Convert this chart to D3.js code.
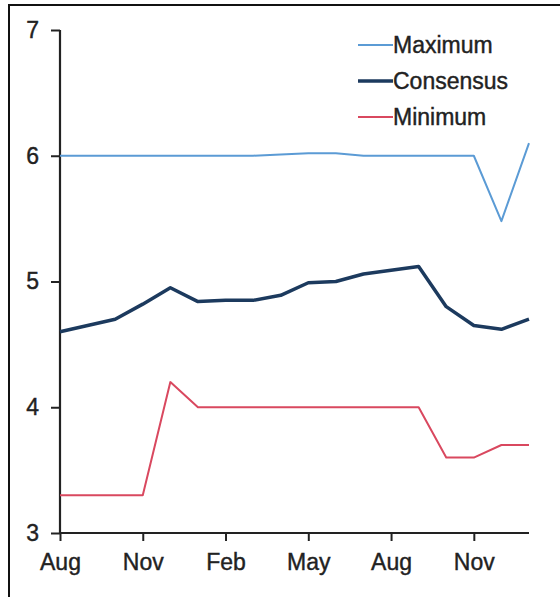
<!DOCTYPE html>
<html>
<head>
<meta charset="utf-8">
<script src="https://cdn.jsdelivr.net/npm/d3@7"></script>
<style>
  body { margin: 0; background: #fff; }
  svg text { font-family: "Liberation Sans", Arial, sans-serif; fill: #222; }
</style>
</head>
<body>
<div id="chart"></div>
<script>
// Monthly points, Aug .. Jan of the year after next
const months = ['Aug', 'Sep', 'Oct', 'Nov', 'Dec', 'Jan', 'Feb', 'Mar', 'Apr',
  'May', 'Jun', 'Jul', 'Aug', 'Sep', 'Oct', 'Nov', 'Dec', 'Jan'];
const tickIdx = [0, 3, 6, 9, 12, 15];
const yTicks = [3, 4, 5, 6, 7];

const maximum = [6.0, 6.0, 6.0, 6.0, 6.0, 6.0, 6.0, 6.0, 6.01, 6.02, 6.02, 6.0,
  6.0, 6.0, 6.0, 6.0, 5.48, 6.1];
const consensus = [4.6, 4.65, 4.7, 4.82, 4.95, 4.84, 4.85, 4.85, 4.89, 4.99, 5.0,
  5.06, 5.09, 5.12, 4.8, 4.65, 4.62, 4.7];
const minimum = [3.3, 3.3, 3.3, 3.3, 4.2, 4.0, 4.0, 4.0, 4.0, 4.0, 4.0, 4.0,
  4.0, 4.0, 3.6, 3.6, 3.7, 3.7];

const series = [
  { name: 'Maximum', values: maximum, color: '#5b9bd5', width: 2 },
  { name: 'Consensus', values: consensus, color: '#1c3a5e', width: 3.5 },
  { name: 'Minimum', values: minimum, color: '#d9485f', width: 2 },
];

const W = 560, H = 597;
const fontSize = 23;

const svg = d3.select('#chart')
  .append('svg')
    .attr('width', W)
    .attr('height', H);

// frame (image is cropped: only top and left edges show)
svg.append('path')
  .attr('d', 'M9,' + H + 'V5H' + W)
  .attr('fill', 'none')
  .attr('stroke', '#111')
  .attr('stroke-width', 2);

const x = d3.scaleLinear().domain([0, months.length - 1]).range([60, 529]);
const y = d3.scaleLinear().domain([3, 7]).range([533, 30]);

// y axis
const yAxis = svg.append('g')
  .attr('transform', 'translate(60,0)')
  .call(d3.axisLeft(y).tickValues(yTicks).tickSize(9).tickPadding(12).tickFormat(d3.format('d')));

// x axis
const xAxis = svg.append('g')
  .attr('transform', 'translate(0,533)')
  .call(d3.axisBottom(x).tickValues(tickIdx).tickSize(8).tickPadding(13)
    .tickFormat(i => months[i]));

[yAxis, xAxis].forEach(ax => {
  ax.select('.domain').attr('stroke', '#222').attr('stroke-width', 2.2)
  ax.selectAll('.tick line').attr('stroke', '#222').attr('stroke-width', 2);
  ax.selectAll('.tick text')
    .attr('font-size', fontSize)
    .style('font-family', '"Liberation Sans", Arial, sans-serif')
    .attr('fill', '#222')
    .attr('stroke', '#222')
    .attr('stroke-width', 0.4);
});
// plain domain lines without end caps
yAxis.select('.domain').attr('d', 'M0,' + y(7) + 'V' + y(3));
xAxis.select('.domain').attr('d', 'M' + x(0) + ',0H' + x(months.length - 1));

// lines
const line = d3.line()
  .x((d, i) => x(i))
  .y(d => y(d));

svg.selectAll('.series')
  .data(series)
  .enter().append('path')
    .attr('class', 'series')
    .attr('fill', 'none')
    .attr('stroke', d => d.color)
    .attr('stroke-width', d => d.width)
    .attr('stroke-linejoin', 'round')
    .attr('d', d => line(d.values));

// legend
const legend = svg.selectAll('.legend')
  .data(series)
  .enter().append('g')
    .attr('class', 'legend')
    .attr('transform', (d, i) => 'translate(358,' + (45 + i * 36) + ')');

legend.append('line')
  .attr('x1', 0)
  .attr('x2', 35)
  .attr('stroke', d => d.color)
  .attr('stroke-width', d => d.width);

legend.append('text')
  .attr('x', 35)
  .attr('dy', '0.35em')
  .attr('font-size', fontSize)
  .attr('stroke', '#222')
  .attr('stroke-width', 0.4)
  .text(d => d.name);
</script>
</body>
</html>
